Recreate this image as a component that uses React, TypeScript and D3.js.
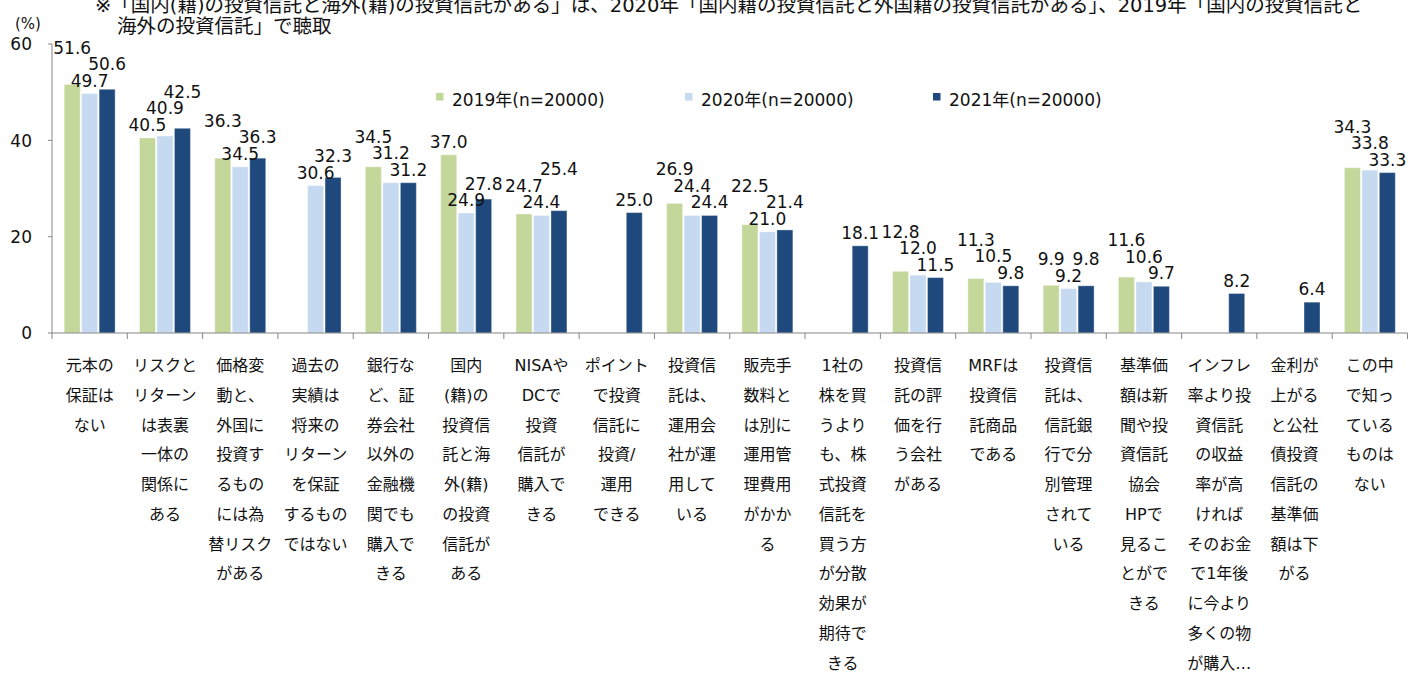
import React from 'react';
import * as d3 from 'd3';

const seriesNames = ['2019年(n=20000)', '2020年(n=20000)', '2021年(n=20000)'];
const seriesColors = ['#C4D79B', '#C5D9F1', '#1F497D'];

const categoryLines: string[][] = [
  ['元本の', '保証は', 'ない'],
  ['リスクと', 'リターン', 'は表裏', '一体の', '関係に', 'ある'],
  ['価格変', '動と、', '外国に', '投資す', 'るもの', 'には為', '替リスク', 'がある'],
  ['過去の', '実績は', '将来の', 'リターン', 'を保証', 'するもの', 'ではない'],
  ['銀行な', 'ど、証', '券会社', '以外の', '金融機', '関でも', '購入で', 'きる'],
  ['国内', '(籍)の', '投資信', '託と海', '外(籍)', 'の投資', '信託が', 'ある'],
  ['NISAや', 'DCで', '投資', '信託が', '購入で', 'きる'],
  ['ポイント', 'で投資', '信託に', '投資/', '運用', 'できる'],
  ['投資信', '託は、', '運用会', '社が運', '用して', 'いる'],
  ['販売手', '数料と', 'は別に', '運用管', '理費用', 'がかか', 'る'],
  ['1社の', '株を買', 'うより', 'も、株', '式投資', '信託を', '買う方', 'が分散', '効果が', '期待で', 'きる'],
  ['投資信', '託の評', '価を行', 'う会社', 'がある'],
  ['MRFは', '投資信', '託商品', 'である'],
  ['投資信', '託は、', '信託銀', '行で分', '別管理', 'されて', 'いる'],
  ['基準価', '額は新', '聞や投', '資信託', '協会', 'HPで', '見るこ', 'とがで', 'きる'],
  ['インフレ', '率より投', '資信託', 'の収益', '率が高', 'ければ', 'そのお金', 'で1年後', 'に今より', '多くの物', 'が購入…'],
  ['金利が', '上がる', 'と公社', '債投資', '信託の', '基準価', '額は下', 'がる'],
  ['この中', 'で知っ', 'ている', 'ものは', 'ない'],
];

const values2019: (number | null)[] = [51.6, 40.5, 36.3, null, 34.5, 37.0, 24.7, null, 26.9, 22.5, null, 12.8, 11.3, 9.9, 11.6, null, null, 34.3];
const values2020: (number | null)[] = [49.7, 40.9, 34.5, 30.6, 31.2, 24.9, 24.4, null, 24.4, 21.0, null, 12.0, 10.5, 9.2, 10.6, null, null, 33.8];
const values2021: (number | null)[] = [50.6, 42.5, 36.3, 32.3, 31.2, 27.8, 25.4, 25.0, 24.4, 21.4, 18.1, 11.5, 9.8, 9.8, 9.7, 8.2, 6.4, 33.3];
const seriesValues = [values2019, values2020, values2021];

const yTicks = [0, 20, 40, 60];
const yUnit = '(%)';
const titleLines = [
  '※「国内(籍)の投資信託と海外(籍)の投資信託がある」は、2020年「国内籍の投資信託と外国籍の投資信託がある」、2019年「国内の投資信託と',
  '海外の投資信託」で聴取',
];

const W = 1410;
const H = 674;
const FONT = '"DejaVu Sans", "Noto Sans CJK JP", sans-serif';
const TEXT = '#111';
const AXIS = '#868686';
const LABEL_FS = 17;

const measureCtx = (() => {
  const c = document.createElement('canvas');
  const ctx = c.getContext('2d')!;
  ctx.font = `${LABEL_FS}px "DejaVu Sans"`;
  return ctx;
})();

export default function App() {
  const left = 52;
  const right = 1407.5;
  const top = 44;
  const bottom = 333;

  const idx = categoryLines.map((_, i) => i);
  const x0 = d3.scaleBand<number>().domain(idx).range([left, right]).padding(0);
  const x1 = d3.scaleBand<number>().domain([0, 1, 2]).range([0, x0.bandwidth()]).paddingInner(0).paddingOuter(0.655);
  const y = d3.scaleLinear().domain([0, 60]).range([bottom, top]);
  const fmt = d3.format('.1f');

  const bars: { i: number; s: number; v: number }[] = [];
  seriesValues.forEach((arr, s) => arr.forEach((v, i) => { if (v != null) bars.push({ i, s, v }); }));

  // data labels: start just above each bar, push upward when they collide
  const items = bars.map(b => {
    const text = fmt(b.v);
    return {
      ...b,
      text,
      cx: (x0(b.i) as number) + (x1(b.s) as number) + x1.bandwidth() / 2,
      w: measureCtx.measureText(text).width,
      b: y(b.v) - 7,
    };
  });
  const order = [...items].sort((a, b) => (a.v - b.v) || (b.s - a.s) || (a.i - b.i));
  const placed: typeof items = [];
  for (const it of order) {
    let moved = true;
    let guard = 0;
    while (moved && guard++ < 50) {
      moved = false;
      for (const p of placed) {
        const hOverlap = Math.abs(it.cx - p.cx) < (it.w + p.w) / 2;
        const vOverlap = Math.abs(it.b - p.b) < 16;
        if (hOverlap && vOverlap) {
          it.b = p.b - 16.5;
          moved = true;
        }
      }
    }
    placed.push(it);
  }

  const bandEdges = idx.map(i => x0(i) as number).concat([right]);

  return (
    <svg width={W} height={H} style={{ position: 'absolute', left: 0, top: 0, background: '#fff' }} fontFamily={FONT}>
      <rect x={0} y={0} width={W} height={H} fill="#fff" />
      <text x={95} y={11.5} fontSize={19.5} fill={TEXT}>{titleLines[0]}</text>
      <text x={117} y={32.5} fontSize={19.5} fill={TEXT}>{titleLines[1]}</text>
      <text x={15} y={28.5} fontSize={15} fill={TEXT}>{yUnit}</text>
      <line x1={left} x2={left} y1={top} y2={bottom} stroke={AXIS} strokeWidth={1} />
      {yTicks.map(t => (
        <g key={t}>
          <line x1={left - 4} x2={left} y1={y(t)} y2={y(t)} stroke={AXIS} strokeWidth={1} />
          <text x={32} y={y(t) + 6.3} fontSize={17} textAnchor="end" fill={TEXT}>{t}</text>
        </g>
      ))}
      {bars.map(b => (
        <rect
          key={`${b.s}-${b.i}`}
          x={(x0(b.i) as number) + (x1(b.s) as number) + 0.75}
          y={y(b.v)}
          width={x1.bandwidth() - 1.5}
          height={bottom - y(b.v)}
          fill={seriesColors[b.s]}
          stroke="#ffffff"
          strokeOpacity={0.35}
          strokeWidth={1}
        />
      ))}
      <line x1={left} x2={right} y1={bottom} y2={bottom} stroke={AXIS} strokeWidth={1.2} />
      {bandEdges.map((e, k) => (
        <line key={k} x1={e} x2={e} y1={bottom} y2={bottom + 6} stroke={AXIS} strokeWidth={1} />
      ))}
      {items.map(it => (
        <text key={`l${it.s}-${it.i}`} x={it.cx} y={it.b} fontSize={LABEL_FS} textAnchor="middle" fill={TEXT}>{it.text}</text>
      ))}
      {categoryLines.map((lines, i) => (
        <text key={`c${i}`} fontSize={16} textAnchor="middle" fill={TEXT}>
          {lines.map((ln, k) => (
            <tspan key={k} x={(x0(i) as number) + x0.bandwidth() / 2} y={371 + k * 29.75}>{ln}</tspan>
          ))}
        </text>
      ))}
      {seriesNames.map((n, s) => {
        const lx = [436, 685, 933][s];
        return (
          <g key={n}>
            <rect x={lx} y={93} width={7.5} height={7.5} fill={seriesColors[s]} />
            <text x={lx + 16} y={105.5} fontSize={17} fill={TEXT}>{n}</text>
          </g>
        );
      })}
    </svg>
  );
}
